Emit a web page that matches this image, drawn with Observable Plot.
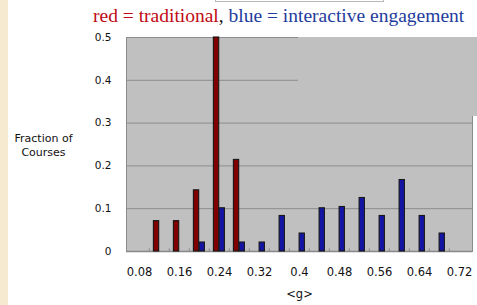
<!DOCTYPE html>
<html>
<head>
<meta charset="utf-8">
<script src="https://cdn.jsdelivr.net/npm/d3@7"></script>
<script src="https://cdn.jsdelivr.net/npm/@observablehq/plot@0.6"></script>
<style>
  html, body { margin: 0; padding: 0; background: #ffffff; }
  #wrap { position: relative; width: 477px; height: 305px; overflow: hidden; background: #ffffff; }
  #paper { position: absolute; left: 0; top: 0; width: 8px; height: 305px; background: #f6ead0; }
  #topbox { position: absolute; left: 215px; top: -10px; width: 167px; height: 10px; border: 1px solid #b8b8b8; background: #fff; }
  #title { position: absolute; left: 93px; top: 5px; font-family: "Liberation Serif", "Times New Roman", serif; font-size: 19.5px; white-space: nowrap; color: #111; }
  #title .red { color: #c00a14; }
  #title .blue { color: #1e3c9c; }
  #chart { position: absolute; left: 0; top: 30px; }
  #mask { position: absolute; left: 298px; top: 37px; width: 179px; height: 79px; background: #c0c0c0; }
</style>
</head>
<body>
<div id="wrap">
  <div id="paper"></div>
  <div id="topbox"></div>
  <div id="title"><span class="red">red = traditional</span>, <span class="blue">blue = interactive engagement</span></div>
  <div id="chart"></div>
  <div id="mask"></div>
</div>
<script>
const categories = ["0.08","0.12","0.16","0.20","0.24","0.28","0.32","0.36","0.40","0.44","0.48","0.52","0.56","0.60","0.64","0.68","0.72"];
const traditional = [0, 0.071, 0.071, 0.143, 0.5, 0.214, 0, 0, 0, 0, 0, 0, 0, 0, 0, 0, 0];
const interactive = [0, 0, 0, 0.021, 0.101, 0.021, 0.021, 0.083, 0.042, 0.101, 0.104, 0.125, 0.083, 0.167, 0.083, 0.042, 0];
const xTickCategories = ["0.08","0.16","0.24","0.32","0.40","0.48","0.56","0.64","0.72"];
const xTickLabels = ["0.08","0.16","0.24","0.32","0.4","0.48","0.56","0.64","0.72"];
const yTicks = [0, 0.1, 0.2, 0.3, 0.4, 0.5];
const yTickLabels = ["0", "0.1", "0.2", "0.3", "0.4", "0.5"];
const gridValues = [0.1, 0.2, 0.3, 0.4, 0.5];
const yAxisTitle = "Fraction of\nCourses";
const xAxisTitle = "<g>";

const tradRows = categories.map((c, i) => ({cat: c, value: traditional[i]})).filter(d => d.value > 0);
const ieRows = categories.map((c, i) => ({cat: c, value: interactive[i]})).filter(d => d.value > 0);
const xLabelOf = new Map(xTickCategories.map((c, i) => [c, xTickLabels[i]]));
const yLabelOf = new Map(yTicks.map((v, i) => [v, yTickLabels[i]]));

const plot = Plot.plot({
  width: 477,
  height: 275,
  marginTop: 7,
  marginBottom: 54,
  marginLeft: 126,
  marginRight: 5,
  style: {background: "transparent", fontFamily: "DejaVu Sans, sans-serif", color: "#111"},
  x: {domain: categories, padding: 0, axis: null},
  y: {domain: [0, 0.5], axis: null},
  marks: [
    Plot.frame({fill: "#c0c0c0", stroke: "#8c8c8c"}),
    Plot.ruleY(gridValues, {stroke: "#8c8c8c", strokeWidth: 1}),
    Plot.ruleY([0], {stroke: "#888888", strokeWidth: 1.3}),
    Plot.ruleX(categories.slice(1), {x: d => d, y1: 0, y2: 0.006, dx: -346 / 34, stroke: "#888888"}),
    Plot.barY(tradRows, {x: "cat", y: "value", fill: "#800000", stroke: "#181818", strokeWidth: 1.1, insetLeft: 4.4, insetRight: 10.3}),
    Plot.barY(ieRows, {x: "cat", y: "value", fill: "#1414a4", stroke: "#181818", strokeWidth: 1.1, insetLeft: 10.1, insetRight: 4.6}),
    Plot.axisY({ticks: yTicks, tickFormat: d => yLabelOf.get(d), tickSize: 0, tickPadding: 15, fontSize: 10.5, fill: "#111", label: null}),
    Plot.axisX({ticks: xTickCategories, tickFormat: d => xLabelOf.get(d), tickSize: 0, tickPadding: 16, fontSize: 11.5, fill: "#111", label: xAxisTitle, labelAnchor: "center", labelOffset: 46}),
    Plot.text([yAxisTitle], {frameAnchor: "left", dx: -83, textAnchor: "middle", fontSize: 11, fill: "#111", lineHeight: 1.25})
  ]
});
document.getElementById("chart").appendChild(plot);
</script>
</body>
</html>
